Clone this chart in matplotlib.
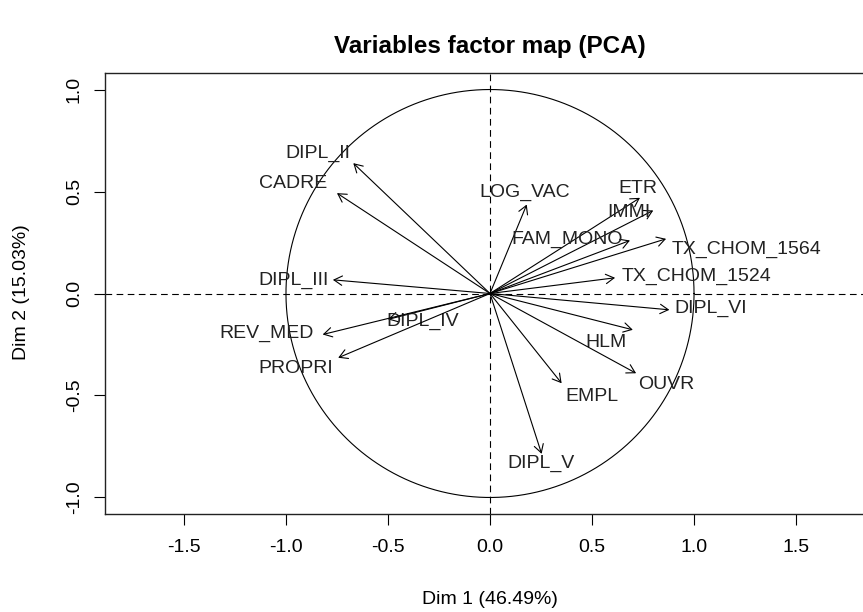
import numpy as np
import matplotlib
matplotlib.use("Agg")
import matplotlib.pyplot as plt

plt.rcParams['font.family'] = ['Liberation Sans', 'DejaVu Sans']

# PCA variable coordinates (Dim 1, Dim 2)
variables = ["DIPL_II", "CADRE", "DIPL_III", "LOG_VAC", "ETR", "IMMI", "FAM_MONO",
             "TX_CHOM_1564", "TX_CHOM_1524", "DIPL_VI", "HLM", "OUVR", "EMPL",
             "DIPL_V", "DIPL_IV", "REV_MED", "PROPRI"]
dim1 = [-0.67, -0.75, -0.77, 0.18, 0.735, 0.80, 0.686,
        0.863, 0.613, 0.879, 0.70, 0.716, 0.351,
        0.253, -0.50, -0.82, -0.744]
dim2 = [0.639, 0.492, 0.067, 0.436, 0.469, 0.407, 0.26,
        0.268, 0.077, -0.08, -0.178, -0.391, -0.44,
        -0.786, -0.127, -0.201, -0.315]

title = "Variables factor map (PCA)"
xlabel = "Dim 1 (46.49%)"
ylabel = "Dim 2 (15.03%)"
ticks = [-1.5, -1.0, -0.5, 0.0, 0.5, 1.0, 1.5]
yticks = [-1.0, -0.5, 0.0, 0.5, 1.0]

# label offsets from arrow tips, in pixels (dx right, dy up)
label_offsets = {
    "DIPL_II": (-35, 10), "CADRE": (-44, 10), "DIPL_III": (-39, -1),
    "LOG_VAC": (-2, 12), "ETR": (-2, 9), "IMMI": (-24, -2),
    "FAM_MONO": (-63, 1), "TX_CHOM_1564": (80, -11), "TX_CHOM_1524": (81, 1),
    "DIPL_VI": (41, 1), "HLM": (-27, -13), "OUVR": (30, -11),
    "EMPL": (30, -13), "DIPL_V": (-1, -10), "DIPL_IV": (35, -2),
    "REV_MED": (-56, 1), "PROPRI": (-42, -11),
}

W, H = 863, 612
fig = plt.figure(figsize=(W / 100, H / 100), dpi=100)
ax = fig.add_axes([105 / W, 1 - 514 / H, (875 - 105) / W, (514 - 73) / H])
ax.set_xlim(-1.887, 1.887)
ax.set_ylim(-1.081, 1.081)

# unit circle
t = np.linspace(0, 2 * np.pi, 400)
ax.plot(np.cos(t), np.sin(t), color='black', lw=0.8)

# dashed axes through the origin
ax.axhline(0, color='black', lw=0.8, linestyle=(0, (6, 4)))
ax.axvline(0, color='black', lw=0.8, linestyle=(0, (6, 4)))

for name, x, y in zip(variables, dim1, dim2):
    ax.annotate('', xy=(x, y), xytext=(0, 0),
                arrowprops=dict(arrowstyle='->,head_length=0.45,head_width=0.26',
                                lw=0.8, color='black', shrinkA=0, shrinkB=0,
                                mutation_scale=13))
    dx, dy = label_offsets[name]
    ax.annotate(name, xy=(x, y), xytext=(dx, dy), textcoords='offset pixels',
                ha='center', va='center', fontsize=14, color='#222222')

ax.set_xticks(ticks)
ax.set_xticklabels([f"{v:.1f}" for v in ticks])
ax.set_yticks(yticks)
ax.set_yticklabels([f"{v:.1f}" for v in yticks], rotation=90, va='center')
ax.tick_params(direction='out', length=8, width=0.8, labelsize=14, color='black')
ax.tick_params(axis='x', pad=10)
ax.tick_params(axis='y', pad=8)
for s in ax.spines.values():
    s.set_linewidth(1.0)
    s.set_color('#222222')

fig.text(490 / W, 1 - 600 / H, xlabel, ha='center', va='center', fontsize=14)
fig.text(22 / W, 1 - 292 / H, ylabel, ha='center', va='center', fontsize=14,
         rotation=90)
fig.text(490 / W, 1 - 47 / H, title, ha='center', va='center', fontsize=17.5,
         fontweight='bold')

fig.savefig("out.png", dpi=100)
